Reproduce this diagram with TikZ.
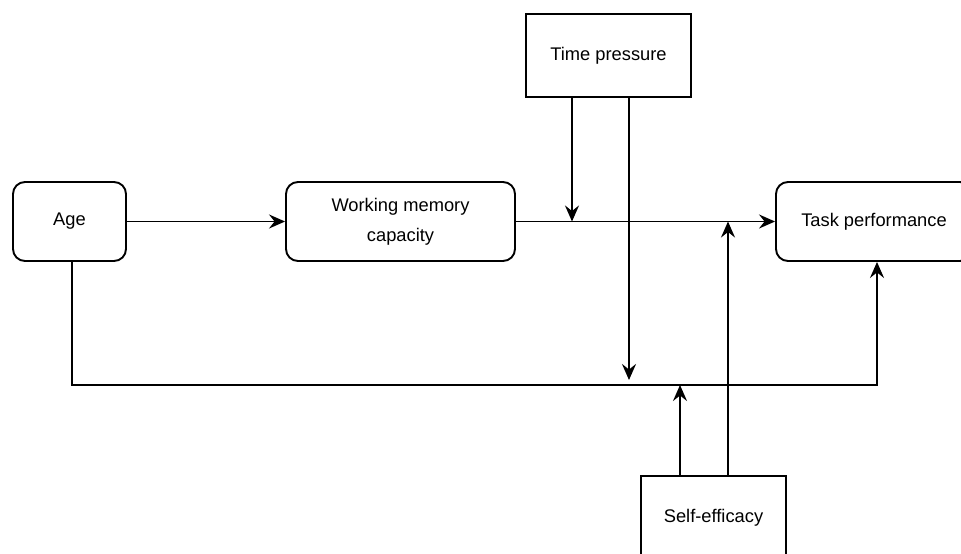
\documentclass[tikz,border=0pt]{standalone}
\usepackage{fontspec}
\setmainfont{Liberation Sans}
\usetikzlibrary{arrows.meta}
\begin{document}
\begin{tikzpicture}[x=1pt,y=-1pt,
  every node/.style={font=\fontsize{18.3}{30}\selectfont, inner sep=0pt, align=center},
  roundbox/.style={draw, line width=1.9pt, rounded corners=12pt},
  sqbox/.style={draw, line width=1.9pt},
  conn/.style={line width=1.9pt},
  arr/.style={conn, -{Stealth[length=16pt,width=14pt,inset=5.5pt]}}]
\clip (0,0) rectangle (961,554);
\fill[white] (0,0) rectangle (961,554);
\node[roundbox, minimum width=113pt, minimum height=79pt] (age) at (69.5,221.5) {Age};
\node[roundbox, minimum width=229pt, minimum height=79pt] (wm) at (400.5,221.5) {Working memory\\capacity};
\node[roundbox, minimum width=196pt, minimum height=79pt] (task) at (874,221.5) {Task performance};
\node[sqbox, minimum width=165pt, minimum height=83pt] (time) at (608.5,55.5) {Time pressure};
\node[sqbox, minimum width=145pt, minimum height=84pt] (self) at (713.5,518) {Self-efficacy};
\coordinate (tp1) at (572,221.5);
\coordinate (tp2) at (629,380);
\coordinate (bl) at (72,385);
\coordinate (br) at (877,385);
\coordinate (se1) at (680,385);
\coordinate (se2) at (728,221.5);
\draw[arr] (age.east) -- (wm.west);
\draw[arr] (wm.east) -- (task.west);
\draw[arr] (time.south -| tp1) -- (tp1);
\draw[arr] (time.south -| tp2) -- (tp2);
\draw[arr] (age.south -| bl) -- (bl) -- (br) -- (task.south -| br);
\draw[arr] (self.north -| se1) -- (se1);
\draw[arr] (self.north -| se2) -- (se2);
\end{tikzpicture}
\end{document}
